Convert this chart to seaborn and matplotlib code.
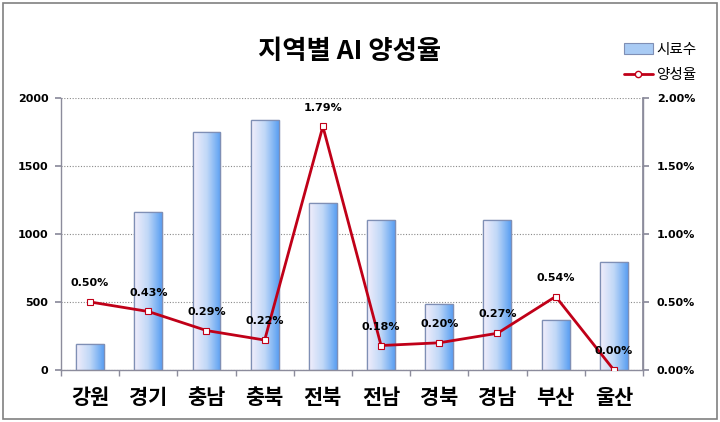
import numpy as np
import pandas as pd
import matplotlib
matplotlib.use("Agg")
import matplotlib.pyplot as plt
import seaborn as sns
from matplotlib.patches import Rectangle, Patch
from matplotlib.lines import Line2D
from matplotlib.colors import LinearSegmentedColormap

regions = ["강원", "경기", "충남", "충북", "전북", "전남", "경북", "경남", "부산", "울산"]
samples = [192, 1159, 1749, 1838, 1225, 1100, 487, 1100, 369, 790]
rates = [0.50, 0.43, 0.29, 0.22, 1.79, 0.18, 0.20, 0.27, 0.54, 0.00]
title = "지역별 AI 양성율"
bar_label = "시료수"
line_label = "양성율"

sns.set_theme(style="white")
plt.rcParams['font.family'] = ['Noto Sans CJK KR', 'DejaVu Sans']
plt.rcParams['text.color'] = 'black'
plt.rcParams['xtick.color'] = 'black'
plt.rcParams['ytick.color'] = 'black'

df = pd.DataFrame({"region": regions, "samples": samples, "rate": rates})

fig = plt.figure(figsize=(7.2, 4.22), dpi=100)
fig.patch.set_facecolor("white")
ax = fig.add_axes([0.0847, 0.1232, 0.8083, 0.645])

sns.barplot(data=df, x="region", y="samples", ax=ax, width=0.48,
            color="#8ab8f0", edgecolor="#7f8fb5", linewidth=0.9, zorder=2)

cmap = LinearSegmentedColormap.from_list("g", ["#f2eefb", "#c0d8f7", "#5a9ff2"])
grad = np.linspace(0, 1, 256).reshape(1, -1)
for p in list(ax.patches):
    x0, y0 = p.get_x(), p.get_y()
    w, h = p.get_width(), p.get_height()
    im = ax.imshow(grad, cmap=cmap, aspect="auto", extent=[x0, x0 + w, y0, y0 + h],
                   zorder=2.1, interpolation="bilinear")
    im.set_clip_path(p)
    ax.add_patch(Rectangle((x0, y0), w, h, fill=False, edgecolor="#7f8fb5",
                           linewidth=0.9, zorder=2.2))

ax.set_xlim(-0.5, len(regions) - 0.5)
ax.set_ylim(0, 2000)
ax.set_yticks([0, 500, 1000, 1500, 2000])
ax.yaxis.grid(True, linestyle=(0, (1, 1.5)), color="#8a8a8a", linewidth=0.8)
ax.set_axisbelow(True)
ax.set_xlabel("")
ax.set_ylabel("")
ax.spines["top"].set_visible(False)
for s in ["left", "bottom", "right"]:
    ax.spines[s].set_color("#8c8c9c")
    ax.spines[s].set_linewidth(1.0)

ax.tick_params(axis="y", which="major", length=4, direction="out", color="#8c8c9c",
               labelcolor="black", labelsize=8, pad=5, left=True)
for t in ax.get_yticklabels():
    t.set_fontweight("bold")
    t.set_family("DejaVu Sans")
ax.set_xticks(np.arange(len(regions)))
ax.set_xticklabels(regions, fontsize=15, fontweight="bold")
ax.tick_params(axis="x", which="major", length=0, pad=12, labelcolor="black")
ax.set_xticks(np.arange(-0.5, len(regions), 1.0), minor=True)
ax.tick_params(axis="x", which="minor", length=4, direction="out", color="#8c8c9c", bottom=True)

ax2 = ax.twinx()
sns.lineplot(x=np.arange(len(regions)), y=df["rate"], ax=ax2, color="#c00018",
             linewidth=2, marker="s", markersize=4.5, markerfacecolor="white",
             markeredgecolor="#c00018", markeredgewidth=0.8, zorder=5)
ax2.set_ylim(0, 2.0)
ax2.set_yticks([0, 0.5, 1.0, 1.5, 2.0])
ax2.set_yticklabels([f"{v:.2f}%" for v in [0, 0.5, 1.0, 1.5, 2.0]])
ax2.set_ylabel("")
ax2.grid(False)
for s in ["top", "left", "bottom"]:
    ax2.spines[s].set_visible(False)
ax2.spines["right"].set_color("#8c8c9c")
ax2.tick_params(axis="y", length=4, direction="out", color="#8c8c9c", labelcolor="black",
                labelsize=8, pad=6, right=True)
for t in ax2.get_yticklabels():
    t.set_fontweight("bold")
    t.set_family("DejaVu Sans")

for i, r in enumerate(rates):
    ax2.annotate(f"{r:.2f}%", (i, r), xytext=(0, 10), textcoords="offset points",
                 ha="center", va="bottom", fontsize=8, fontweight="bold",
                 family="DejaVu Sans", color="black", zorder=6)

fig.text(0.485, 0.877, title, ha="center", va="center", fontsize=19, fontweight="black",
         color="black")

handles = [Patch(facecolor="#a9cbf4", edgecolor="#7f8fb5", linewidth=0.8),
           Line2D([0], [0], color="#c00018", linewidth=2, marker="o", markersize=4.5,
                  markerfacecolor="white", markeredgecolor="#c00018")]
fig.legend(handles, [bar_label, line_label], loc="upper right",
           bbox_to_anchor=(0.985, 0.93), frameon=False, fontsize=10.5,
           handlelength=2.0, handletextpad=0.2, labelspacing=0.8)

fig.add_artist(Rectangle((0.004, 0.006), 0.992, 0.988, transform=fig.transFigure,
                         fill=False, edgecolor="#808080", linewidth=1.2))

fig.savefig("out.png", dpi=100)
